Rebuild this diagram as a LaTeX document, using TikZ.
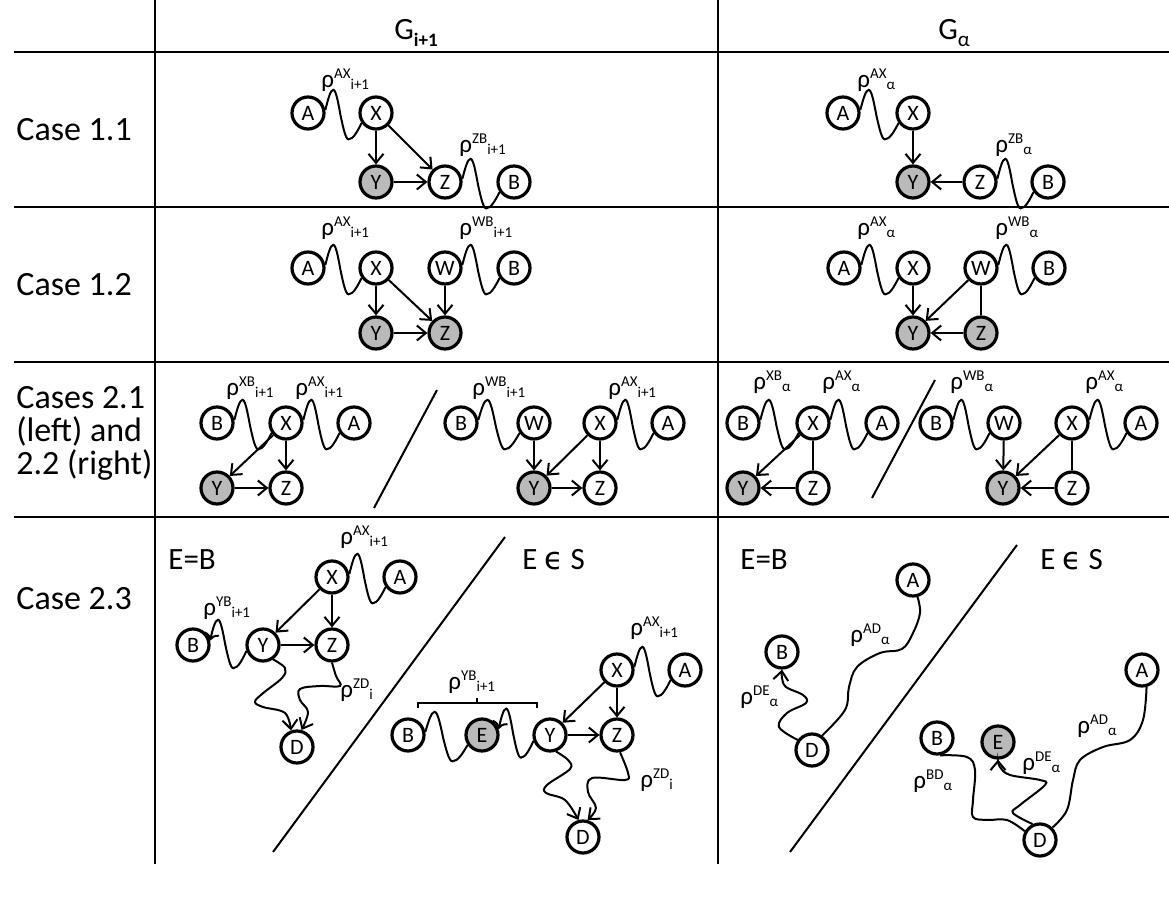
\documentclass[tikz,border=0pt]{standalone}
\usepackage{fontspec}
\setmainfont{Carlito}
\newfontfamily\symfont{DejaVu Sans}
\usetikzlibrary{calc,arrows.meta}

\newcommand{\rlab}[2]{ρ\raisebox{4.8pt}{\fontsize{7.5}{8}\selectfont #1}\raisebox{-0.8pt}{\fontsize{7.5}{8}\selectfont #2}}
\newcommand{\wave}[3][]{\draw[conn,#1] (#2) sin ($(#2)!.22!(#3)+(0,-23)$) cos ($(#2)!.42!(#3)$) sin ($(#2)!.64!(#3)+(0,21)$) cos (#3);}

\tikzset{
  grid/.style={line width=1.2pt},
  vertex/.style={circle, draw, line width=1.6pt, minimum size=16pt, inner sep=0pt, fill=white, font=\fontsize{11}{11}\selectfont},
  shaded/.style={vertex, fill=black!27},
  conn/.style={line width=1pt},
  arr/.style={conn, -{Straight Barb[length=4.5pt,width=7.5pt]}},
  lab/.style={anchor=base west, inner sep=0pt, font=\fontsize{12.5}{12.5}\selectfont},
  big/.style={anchor=base west, inner sep=0pt, font=\fontsize{17}{17}\selectfont},
  mid/.style={anchor=base west, inner sep=0pt, font=\fontsize{15.5}{15.5}\selectfont},
}

\begin{document}
\begin{tikzpicture}[x=0.5pt, y=-0.5pt]
  \useasboundingbox (0,0) rectangle (1169,914);

  % table
  \draw[grid] (155,0) -- (155,864);
  \draw[grid] (718,0) -- (718,864);
  \foreach \y in {52, 207, 362, 517} {
    \draw[grid] (14,\y) -- (1169,\y);
  }

  % headers and row titles
  \node[mid] (hg) at (394,40) {G\raisebox{-3.5pt}{\fontsize{9.5}{9.5}\selectfont\bfseries i+1}};
  \node[mid] (ha) at (938,40) {G\raisebox{-3.5pt}{\fontsize{10.5}{10.5}\selectfont α}};
  \node[big] (c11) at (16,141) {Case 1.1};
  \node[big] (c12) at (16,296) {Case 1.2};
  \node[big] (c21a) at (16,409) {Cases 2.1};
  \node[big] (c21b) at (16,442) {(left) and};
  \node[big] (c21c) at (16,475) {2.2 (right)};
  \node[big] (c23) at (16,610) {Case 2.3};

  % Case 1.1, G_{i+1}
  \node[vertex] (l11A) at (308,113) {A};
  \node[vertex] (l11X) at (376,113) {X};
  \node[shaded] (l11Y) at (376,182) {Y};
  \node[vertex] (l11Z) at (445,182) {Z};
  \node[vertex] (l11B) at (514,182) {B};
  \wave{l11A.10}{l11X.215}
  \wave{l11Z.10}{l11B.215}
  \draw[arr] (l11X) -- (l11Y);
  \draw[arr] (l11X) -- (l11Z);
  \draw[arr] (l11Y) -- (l11Z);
  \node[lab] (l11ax) at (321,88) {\rlab{AX}{i+1}};
  \node[lab] (l11zb) at (459,153) {\rlab{ZB}{i+1}};

  % Case 1.1, G_alpha
  \node[vertex] (r11A) at (843,113) {A};
  \node[vertex] (r11X) at (913,113) {X};
  \node[shaded] (r11Y) at (913,182) {Y};
  \node[vertex] (r11Z) at (980,182) {Z};
  \node[vertex] (r11B) at (1048,182) {B};
  \wave{r11A.10}{r11X.215}
  \wave{r11Z.10}{r11B.215}
  \draw[arr] (r11X) -- (r11Y);
  \draw[arr] (r11Z) -- (r11Y);
  \node[lab] (r11ax) at (857,88) {\rlab{AX}{α}};
  \node[lab] (r11zb) at (995,153) {\rlab{ZB}{α}};

  % Case 1.2, G_{i+1}
  \node[vertex] (l12A) at (308,268) {A};
  \node[vertex] (l12X) at (376,268) {X};
  \node[vertex] (l12W) at (445,268) {W};
  \node[vertex] (l12B) at (514,268) {B};
  \node[shaded] (l12Y) at (376,333) {Y};
  \node[shaded] (l12Z) at (445,333) {Z};
  \wave{l12A.10}{l12X.215}
  \wave{l12W.10}{l12B.215}
  \draw[arr] (l12X) -- (l12Y);
  \draw[arr] (l12X) -- (l12Z);
  \draw[arr] (l12W) -- (l12Z);
  \draw[arr] (l12Y) -- (l12Z);
  \node[lab] (l12ax) at (321,236) {\rlab{AX}{i+1}};
  \node[lab] (l12wb) at (459,236) {\rlab{WB}{i+1}};

  % Case 1.2, G_alpha
  \node[vertex] (r12A) at (844,268) {A};
  \node[vertex] (r12X) at (913,268) {X};
  \node[vertex] (r12W) at (981,268) {W};
  \node[vertex] (r12B) at (1049,268) {B};
  \node[shaded] (r12Y) at (913,333) {Y};
  \node[shaded] (r12Z) at (981,333) {Z};
  \wave{r12A.10}{r12X.215}
  \wave{r12W.10}{r12B.215}
  \draw[arr] (r12X) -- (r12Y);
  \draw[arr] (r12W) -- (r12Y);
  \draw[conn] (r12W) -- (r12Z);
  \draw[arr] (r12Z) -- (r12Y);
  \node[lab] (r12ax) at (857,236) {\rlab{AX}{α}};
  \node[lab] (r12wb) at (995,236) {\rlab{WB}{α}};

  % Cases 2.1 / 2.2, G_{i+1}
  \node[vertex] (l21B) at (217,423) {B};
  \node[vertex] (l21X) at (286,423) {X};
  \node[vertex] (l21A) at (354,423) {A};
  \node[shaded] (l21Y) at (217,488) {Y};
  \node[vertex] (l21Z) at (286,488) {Z};
  \wave{l21B.10}{l21X.215}
  \wave{l21X.10}{l21A.215}
  \draw[arr] (l21X) -- (l21Y);
  \draw[arr] (l21X) -- (l21Z);
  \draw[arr] (l21Y) -- (l21Z);
  \node[lab] (l21xb) at (226,396) {\rlab{XB}{i+1}};
  \node[lab] (l21ax) at (295,396) {\rlab{AX}{i+1}};
  \draw[conn] (437,390) -- (374,508);
  \node[vertex] (l22B) at (461,423) {B};
  \node[vertex] (l22W) at (534,423) {W};
  \node[vertex] (l22X) at (600,423) {X};
  \node[vertex] (l22A) at (668,423) {A};
  \node[shaded] (l22Y) at (534,488) {Y};
  \node[vertex] (l22Z) at (600,488) {Z};
  \wave{l22B.10}{l22W.215}
  \wave{l22X.10}{l22A.215}
  \draw[arr] (l22W) -- (l22Y);
  \draw[arr] (l22X) -- (l22Y);
  \draw[arr] (l22X) -- (l22Z);
  \draw[arr] (l22Y) -- (l22Z);
  \node[lab] (l22wb) at (472,396) {\rlab{WB}{i+1}};
  \node[lab] (l22ax) at (608,396) {\rlab{AX}{i+1}};

  % Cases 2.1 / 2.2, G_alpha
  \node[vertex] (r21B) at (743,423) {B};
  \node[vertex] (r21X) at (813,423) {X};
  \node[vertex] (r21A) at (882,423) {A};
  \node[shaded] (r21Y) at (743,488) {Y};
  \node[vertex] (r21Z) at (813,488) {Z};
  \wave{r21B.10}{r21X.215}
  \wave{r21X.10}{r21A.215}
  \draw[arr] (r21X) -- (r21Y);
  \draw[conn] (r21X) -- (r21Z);
  \draw[arr] (r21Z) -- (r21Y);
  \node[lab] (r21xb) at (753,390) {\rlab{XB}{α}};
  \node[lab] (r21ax) at (822,390) {\rlab{AX}{α}};
  \draw[conn] (935,380) -- (872,498);
  \node[vertex] (r22B) at (936,423) {B};
  \node[vertex] (r22W) at (1004,423) {W};
  \node[vertex] (r22X) at (1072,423) {X};
  \node[vertex] (r22A) at (1141,423) {A};
  \node[shaded] (r22Y) at (1003,488) {Y};
  \node[vertex] (r22Z) at (1072,488) {Z};
  \wave{r22B.10}{r22W.215}
  \wave{r22X.10}{r22A.215}
  \draw[arr] (r22W) -- (r22Y);
  \draw[arr] (r22X) -- (r22Y);
  \draw[conn] (r22X) -- (r22Z);
  \draw[arr] (r22Z) -- (r22Y);
  \node[lab] (r22wb) at (950,390) {\rlab{WB}{α}};
  \node[lab] (r22ax) at (1085,390) {\rlab{AX}{α}};

  % Case 2.3, G_{i+1}, E=B
  \node[mid] (l23bt) at (168,570) {E=B};
  \node[vertex] (l23bX) at (332,577) {X};
  \node[vertex] (l23bA) at (400,577) {A};
  \node[vertex] (l23bB) at (193,645) {B};
  \node[vertex] (l23bY) at (263,645) {Y};
  \node[vertex] (l23bZ) at (332,645) {Z};
  \node[vertex] (l23bD) at (297,747) {D};
  \wave{l23bX.10}{l23bA.215}
  \wave[<-]{l23bB.15}{l23bY.200}
  \draw[arr] (l23bX) -- (l23bY);
  \draw[arr] (l23bX) -- (l23bZ);
  \draw[arr] (l23bY) -- (l23bZ);
  \draw[arr] plot[smooth, tension=0.6] coordinates {(l23bY.-55) (285,668) (282,678) (262,694) (255,702) (263,707) (285,713) (l23bD.110)};
  \draw[arr] plot[smooth, tension=0.6] coordinates {(l23bZ.-90) (336,676) (340,686) (320,686) (300,689) (300,700) (308,712) (l23bD.75)};
  \node[lab] (l23bax) at (340,545) {\rlab{AX}{i+1}};
  \node[lab] (l23byb) at (203,616) {\rlab{YB}{i+1}};
  \node[lab] (l23bzd) at (340,698) {\rlab{ZD}{i}};
  \draw[conn] (505,537) -- (273,852);

  % Case 2.3, G_{i+1}, E in S
  \node[mid] (l23st) at (522,570) {E {\symfont ϵ} S};
  \node[vertex] (l23sX) at (617,670) {X};
  \node[vertex] (l23sA) at (685,670) {A};
  \node[vertex] (l23sB) at (408,735) {B};
  \node[shaded] (l23sE) at (482,735) {E};
  \node[vertex] (l23sY) at (550,735) {Y};
  \node[vertex] (l23sZ) at (617,735) {Z};
  \node[vertex] (l23sD) at (583,837) {D};
  \wave{l23sX.10}{l23sA.215}
  \wave{l23sB.10}{l23sE.215}
  \wave[<-]{l23sE.20}{l23sY.200}
  \draw[arr] (l23sX) -- (l23sY);
  \draw[arr] (l23sX) -- (l23sZ);
  \draw[arr] (l23sY) -- (l23sZ);
  \draw[arr] plot[smooth, tension=0.6] coordinates {(l23sY.-70) (568,760) (570,769) (547,785) (546,793) (565,800) (l23sD.105)};
  \draw[arr] plot[smooth, tension=0.6] coordinates {(l23sZ.-80) (628,773) (625,780) (592,778) (588,792) (596,808) (l23sD.75)};
  \draw[conn] (418,708) -- (418,703) -- (537,703) -- (537,708);
  \draw[conn] (477,703) -- (477,698);
  \node[lab] (l23sax) at (630,636) {\rlab{AX}{i+1}};
  \node[lab] (l23syb) at (448,690) {\rlab{YB}{i+1}};
  \node[lab] (l23szd) at (640,788) {\rlab{ZD}{i}};

  % Case 2.3, G_alpha, E=B
  \node[mid] (r23bt) at (740,570) {E=B};
  \node[vertex] (r23bA) at (913,580) {A};
  \node[vertex] (r23bB) at (782,652) {B};
  \node[vertex] (r23bD) at (812,750) {D};
  \draw[conn] plot[smooth, tension=0.6] coordinates {(r23bD.55) (845,710) (849,687) (857,667) (880,653) (902,649) (913,633) (920,613) (r23bA.-75)};
  \draw[arr] plot[smooth, tension=0.6] coordinates {(r23bD.145) (779,727) (787,713) (806,703) (803,695) (786,687) (782,678) (r23bB.-90)};
  \node[lab] (r23bad) at (850,643) {\rlab{AD}{α}};
  \node[lab] (r23bde) at (740,705) {\rlab{DE}{α}};
  \draw[conn] (1017,545) -- (790,852);

  % Case 2.3, G_alpha, E in S
  \node[mid] (r23st) at (1040,570) {E {\symfont ϵ} S};
  \node[vertex] (r23sA) at (1142,670) {A};
  \node[vertex] (r23sB) at (937,738) {B};
  \node[shaded] (r23sE) at (998,742) {E};
  \node[vertex] (r23sD) at (1040,840) {D};
  \draw[conn] plot[smooth, tension=0.6] coordinates {(r23sD.45) (1067,810) (1073,780) (1080,760) (1103,747) (1130,740) (1143,720) (r23sA.-75)};
  \draw[conn] plot[smooth, tension=0.6] coordinates {(r23sB.-80) (967,757) (975,770) (973,800) (973,817) (987,820) (1007,820) (r23sD.150)};
  \draw[arr] plot[smooth, tension=0.6] coordinates {(r23sD.115) (1013,813) (1020,805) (1045,785) (1040,780) (1010,775) (1000,767) (r23sE.-90)};
  \node[lab] (r23sad) at (1077,734) {\rlab{AD}{α}};
  \node[lab] (r23sde) at (1022,771) {\rlab{DE}{α}};
  \node[lab] (r23sbd) at (913,789) {\rlab{BD}{α}};
\end{tikzpicture}
\end{document}
